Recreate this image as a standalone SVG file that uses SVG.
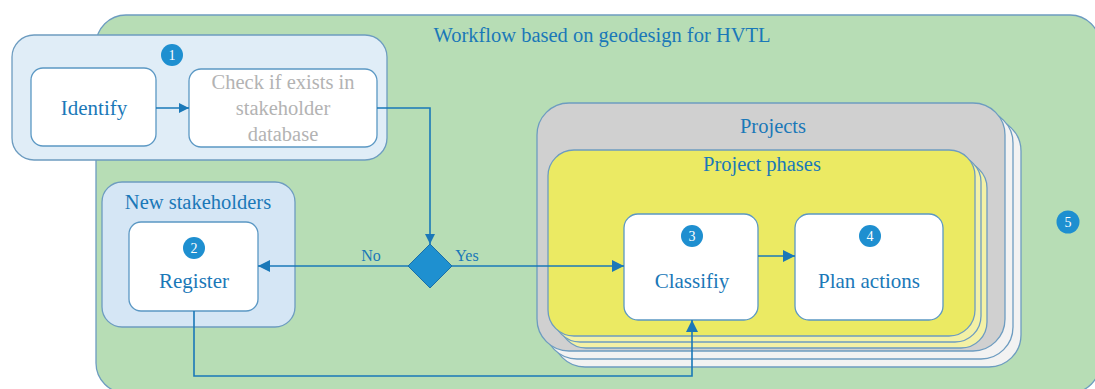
<svg xmlns="http://www.w3.org/2000/svg" width="1095" height="389" viewBox="0 0 1095 389">
  <defs>
    <marker id="arrow" viewBox="0 0 10 10" refX="10" refY="5" markerWidth="10" markerHeight="10" markerUnits="userSpaceOnUse" orient="auto">
      <path d="M0,0 L10,5 L0,10 z" fill="#1a78b8"/>
    </marker>
    <marker id="arrowBig" viewBox="0 0 12 12" refX="12" refY="6" markerWidth="12" markerHeight="12" markerUnits="userSpaceOnUse" orient="auto">
      <path d="M0,0 L12,6 L0,12 z" fill="#1a78b8"/>
    </marker>
  </defs>
  <style>
    text { font-family: Liberation Serif, Tinos, Times New Roman, serif; fill: #1a78b8; text-anchor: middle; }
    .box { fill: #ffffff; stroke: #5b98c4; stroke-width: 1.3; }
    .grey { fill: #b3b3b3; }
    .badge { fill: #1e8fd0; }
    .badge-t { fill: #ffffff; font-size: 14px; }
    .conn { fill: none; stroke: #1a78b8; stroke-width: 1.6; }
    .edge { stroke: #6d9cc0; stroke-width: 1.3; }
  </style>

  <rect width="1095" height="389" fill="#ffffff"/>

  <!-- 5: outer workflow -->
  <g id="workflow">
    <rect x="96" y="15" width="1004" height="378" rx="30" fill="#b7ddb5" class="edge"/>
    <text x="602" y="42" font-size="20.5">Workflow based on geodesign for HVTL</text>
    <circle cx="1068" cy="222" r="11.5" class="badge"/>
    <text x="1068" y="227" class="badge-t">5</text>
  </g>

  <!-- 1: identification -->
  <g id="step1">
    <rect x="12" y="35" width="375" height="125" rx="22" fill="#e0edf7" class="edge"/>
    <circle cx="172" cy="55" r="11" class="badge"/>
    <text x="172" y="60" class="badge-t">1</text>
  </g>
  <g id="identify">
    <rect x="31" y="68" width="125" height="78" rx="12" class="box"/>
    <text x="94" y="115" font-size="21">Identify</text>
  </g>
  <g id="check">
    <rect x="189" y="69" width="188" height="78" rx="12" class="box"/>
    <text x="283" y="89" font-size="20.5" class="grey">Check if exists in</text>
    <text x="283" y="115" font-size="20.5" class="grey">stakeholder</text>
    <text x="283" y="141" font-size="20.5" class="grey">database</text>
  </g>

  <!-- 2: new stakeholders -->
  <g id="new-stakeholders">
    <rect x="102" y="182" width="193" height="145" rx="20" fill="#d5e6f5" class="edge"/>
    <text x="198" y="209" font-size="20.5">New stakeholders</text>
  </g>
  <g id="register">
    <rect x="129" y="222" width="129" height="89" rx="12" class="box"/>
    <circle cx="194" cy="248" r="11" class="badge"/>
    <text x="194" y="253" class="badge-t">2</text>
    <text x="194" y="288" font-size="21">Register</text>
  </g>

  <!-- projects stack -->
  <g id="projects">
    <rect x="553" y="119" width="468" height="248" rx="32" fill="#f2f2f2" class="edge"/>
    <rect x="545" y="111" width="468" height="248" rx="32" fill="#f2f2f2" class="edge"/>
    <rect x="537" y="103" width="468" height="248" rx="32" fill="#d0d0d0" class="edge"/>
    <text x="773" y="133" font-size="20.5">Projects</text>
  </g>
  <g id="project-phases">
    <rect x="560" y="162" width="427" height="186" rx="26" fill="#f3f1a6" class="edge"/>
    <rect x="554" y="156" width="427" height="186" rx="26" fill="#f3f1a6" class="edge"/>
    <rect x="548" y="150" width="427" height="186" rx="26" fill="#ebea63" class="edge"/>
    <text x="762" y="171" font-size="20.5">Project phases</text>
  </g>
  <g id="classify">
    <rect x="624" y="214" width="134" height="106" rx="14" class="box"/>
    <circle cx="692" cy="236" r="11" class="badge"/>
    <text x="692" y="241" class="badge-t">3</text>
    <text x="692" y="288" font-size="21">Classifiy</text>
  </g>
  <g id="plan-actions">
    <rect x="795" y="214" width="148" height="106" rx="14" class="box"/>
    <circle cx="870" cy="236" r="11" class="badge"/>
    <text x="870" y="241" class="badge-t">4</text>
    <text x="869" y="288" font-size="21">Plan actions</text>
  </g>

  <!-- decision -->
  <g id="decision">
    <path d="M430,244 L452,266 L430,288 L408,266 z" fill="#1e90d0" stroke="#1a6fa8" stroke-width="1"/>
  </g>

  <g id="connectors">
    <path d="M156,108 H189" class="conn" marker-end="url(#arrow)"/>
    <path d="M377,108 H430 V244" class="conn" marker-end="url(#arrow)"/>
    <path d="M408,266 H258" class="conn" marker-end="url(#arrowBig)"/>
    <path d="M452,266 H624" class="conn" marker-end="url(#arrowBig)"/>
    <path d="M758,256 H795" class="conn" marker-end="url(#arrowBig)"/>
    <path d="M194,311 V376 H692 V320" class="conn" marker-end="url(#arrowBig)"/>
    <text x="371" y="261" font-size="16">No</text>
    <text x="467" y="261" font-size="16">Yes</text>
  </g>
</svg>
